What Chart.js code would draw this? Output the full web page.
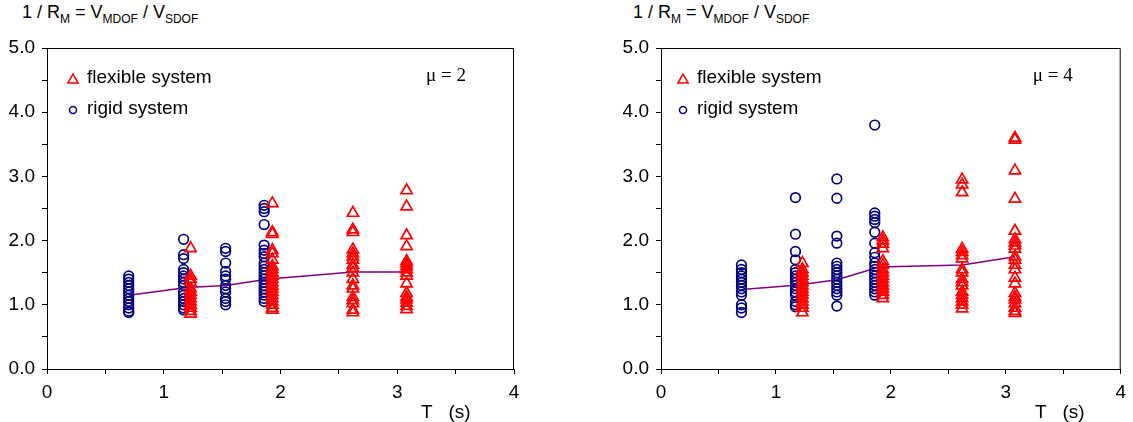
<!DOCTYPE html>
<html lang="en">
<head>
<meta charset="UTF-8">
<title>1 / RM = VMDOF / VSDOF versus T</title>
<script src="https://cdn.jsdelivr.net/npm/chart.js"></script>
<style>
  body { margin: 0; background: #fff; width: 1133px; height: 422px; position: relative; overflow: hidden;
         font-family: "Liberation Sans", Arial, sans-serif; }
  canvas { position: absolute; top: 0; }
  #c1 { left: 0; }
  #c2 { left: 565px; }
  .ytitle { position: absolute; top: 2px; font-size: 18px; color: #000; white-space: nowrap; }
  .ytitle sub { font-size: 12px; color: #000; vertical-align: -5px; line-height: 0; }
</style>
</head>
<body>
<div class="ytitle" style="left:22px">1 / R<sub>M</sub> = V<sub>MDOF</sub> / V<sub>SDOF</sub></div>
<div class="ytitle" style="left:633px">1 / R<sub>M</sub> = V<sub>MDOF</sub> / V<sub>SDOF</sub></div>
<canvas id="c1" width="565" height="422"></canvas>
<canvas id="c2" width="568" height="422"></canvas>
<script>
// periods (s) of each column of points
const rigidT = [0.70, 1.17, 1.53, 1.86];
const flexT  = [1.23, 1.93, 2.62, 3.08];
const meanT  = [0.70, 1.20, 1.53, 1.90, 2.62, 3.08];

// mu = 2
const rigid2_070 = [1.45, 1.40, 1.35, 1.30, 1.25, 1.20, 1.15, 1.10, 1.05, 1.00, 0.95, 0.90, 0.88];
const rigid2_117 = [2.02, 1.78, 1.72, 1.55, 1.50, 1.45, 1.40, 1.35, 1.30, 1.20, 1.15, 1.10, 1.05, 1.00, 0.95, 0.92];
const rigid2_153 = [1.88, 1.83, 1.65, 1.52, 1.45, 1.40, 1.30, 1.25, 1.20, 1.10, 1.05, 1.00];
const rigid2_186 = [2.55, 2.50, 2.45, 2.25, 1.93, 1.85, 1.80, 1.75, 1.65, 1.60, 1.55, 1.50, 1.45, 1.40, 1.35, 1.30, 1.25, 1.20, 1.15, 1.10, 1.05];
const flex2_123 = [1.88, 1.45, 1.40, 1.35, 1.25, 1.20, 1.15, 1.10, 1.05, 1.00, 0.95, 0.90, 0.86];
const flex2_193 = [2.58, 2.13, 2.10, 1.85, 1.80, 1.70, 1.60, 1.55, 1.50, 1.45, 1.40, 1.35, 1.30, 1.25, 1.20, 1.15, 1.10, 1.05, 1.00, 0.95, 0.92];
const flex2_262 = [2.43, 2.17, 2.13, 1.86, 1.80, 1.75, 1.70, 1.62, 1.57, 1.50, 1.40, 1.30, 1.25, 1.12, 1.07, 1.02, 0.92, 0.88];
const flex2_308 = [2.78, 2.53, 2.08, 1.91, 1.68, 1.64, 1.60, 1.55, 1.50, 1.45, 1.33, 1.18, 1.12, 1.08, 1.03, 0.98, 0.93];
const mean2 = [1.15, 1.27, 1.30, 1.40, 1.51, 1.51];

// mu = 4
const rigid4_070 = [1.62, 1.55, 1.50, 1.45, 1.40, 1.35, 1.30, 1.25, 1.20, 1.15, 1.00, 0.95, 0.88];
const rigid4_117 = [2.67, 2.10, 1.83, 1.70, 1.55, 1.50, 1.45, 1.40, 1.35, 1.30, 1.25, 1.20, 1.15, 1.05, 1.00, 0.97];
const rigid4_153 = [2.96, 2.66, 2.07, 1.96, 1.65, 1.60, 1.55, 1.50, 1.45, 1.40, 1.35, 1.30, 1.25, 1.20, 1.15, 0.98];
const rigid4_186 = [3.80, 2.43, 2.38, 2.33, 2.28, 2.13, 1.96, 1.81, 1.74, 1.65, 1.60, 1.55, 1.50, 1.45, 1.40, 1.35, 1.30, 1.25, 1.20, 1.15];
const flex4_123 = [1.65, 1.55, 1.50, 1.45, 1.40, 1.35, 1.30, 1.25, 1.20, 1.15, 1.10, 1.05, 1.00, 0.95, 0.88];
const flex4_193 = [2.05, 2.00, 1.95, 1.88, 1.68, 1.62, 1.55, 1.50, 1.45, 1.40, 1.35, 1.30, 1.25, 1.20, 1.15, 1.10];
const flex4_262 = [2.95, 2.87, 2.75, 1.87, 1.82, 1.77, 1.72, 1.55, 1.50, 1.40, 1.35, 1.30, 1.20, 1.15, 1.10, 1.05, 1.00, 0.94];
const flex4_308 = [3.60, 3.57, 3.09, 2.65, 2.15, 2.02, 1.97, 1.92, 1.87, 1.75, 1.70, 1.62, 1.55, 1.42, 1.33, 1.18, 1.12, 1.08, 1.02, 0.95, 0.90, 0.87];
const mean4 = [1.24, 1.31, 1.39, 1.59, 1.62, 1.75];

const RED = '#ff0000', NAVY = '#000080', PURPLE = '#800080';
const tickFont = { family: '"Liberation Sans", Arial, sans-serif', size: 19 };

const toPoints = (ts, groups) => groups.flatMap((g, i) => g.map(v => ({ x: ts[i], y: v })));

// frame, legend, mu label and T (s) caption
const overlay = {
  id: 'overlay',
  afterDraw(chart, args, o) {
    const { ctx, chartArea: a } = chart;
    ctx.save();
    ctx.strokeStyle = '#000';
    ctx.lineWidth = 1;
    ctx.beginPath();
    ctx.moveTo(a.left, a.top + 0.5);
    ctx.lineTo(a.right - 0.5, a.top + 0.5);
    ctx.lineTo(a.right - 0.5, a.bottom);
    ctx.stroke();

    // legend
    ctx.font = '19px "Liberation Sans", Arial, sans-serif';
    ctx.fillStyle = '#000';
    ctx.textBaseline = 'middle';
    ctx.textAlign = 'left';
    const items = [
      { text: 'flexible system', style: 'triangle', r: 6, color: RED, dy: 31 },
      { text: 'rigid system', style: 'circle', r: 3.5, color: NAVY, dy: 62 }
    ];
    items.forEach(it => {
      ctx.save();
      ctx.strokeStyle = it.color;
      ctx.fillStyle = 'rgba(0,0,0,0)';
      ctx.lineWidth = 1.5;
      Chart.helpers.drawPoint(ctx, { pointStyle: it.style, radius: it.r, rotation: 0, borderWidth: 1.5 },
        a.left + o.markX, a.top + it.dy + (it.style === 'triangle' ? 1 : 0));
      ctx.restore();
      ctx.fillText(it.text, a.left + o.textX, a.top + it.dy - 1);
    });

    // mu
    ctx.font = '19px "Liberation Serif", "Times New Roman", serif';
    ctx.textAlign = 'right';
    ctx.fillText(o.mu, a.right - 48, a.top + 28);

    // x caption
    ctx.font = '19px "Liberation Sans", Arial, sans-serif';
    ctx.textAlign = 'left';
    ctx.textBaseline = 'alphabetic';
    ctx.fillText('T   (s)', a.left + 374, a.bottom + 49);
    ctx.restore();
  }
};

function makeChart(id, rigid, flex, mean, opts) {
  new Chart(document.getElementById(id), {
    type: 'scatter',
    data: {
      datasets: [
        {
          label: 'flexible system', data: toPoints(flexT, flex), order: 1,
          pointStyle: 'triangle', pointRadius: 6.5, borderColor: RED,
          backgroundColor: 'rgba(0,0,0,0)', borderWidth: 1.7
        },
        {
          label: 'rigid system', data: toPoints(rigidT, rigid), order: 2,
          pointStyle: 'circle', pointRadius: 4.8, borderColor: NAVY,
          backgroundColor: 'rgba(0,0,0,0)', borderWidth: 1.7
        },
        {
          type: 'line', label: 'mean', data: meanT.map((t, i) => ({ x: t, y: mean[i] })), order: 3,
          borderColor: PURPLE, borderWidth: 1.5, pointRadius: 0, fill: false, tension: 0
        }
      ]
    },
    options: {
      responsive: false,
      animation: false,
      events: [],
      layout: { padding: opts.padding },
      plugins: {
        legend: { display: false },
        tooltip: { enabled: false },
        overlay: { mu: opts.mu, markX: opts.markX, textX: opts.textX }
      },
      scales: {
        x: {
          type: 'linear', min: 0, max: 4,
          ticks: {
            stepSize: 0.5, autoSkip: false, maxRotation: 0, padding: 7,
            color: '#000', font: tickFont,
            callback: v => Number.isInteger(v) ? String(v) : ''
          },
          grid: { drawOnChartArea: false, tickLength: 5, color: '#000' },
          border: { color: '#000', width: 1 },
          afterFit: s => { s.height = 53; }
        },
        y: {
          min: 0, max: 5,
          ticks: {
            stepSize: 0.5, autoSkip: false, padding: 7,
            color: '#000', font: tickFont,
            callback: v => Number.isInteger(v) ? v.toFixed(1) : ''
          },
          grid: { drawOnChartArea: false, tickLength: 5, color: '#000' },
          border: { color: '#000', width: 1 },
          afterFit: s => { s.width = opts.yWidth; }
        }
      }
    },
    plugins: [overlay]
  });
}

makeChart('c1',
  [rigid2_070, rigid2_117, rigid2_153, rigid2_186],
  [flex2_123, flex2_193, flex2_262, flex2_308],
  mean2,
  { mu: 'μ = 2', padding: { left: 0, top: 48, right: 51, bottom: 0 }, yWidth: 47, markX: 26, textX: 40 });

makeChart('c2',
  [rigid4_070, rigid4_117, rigid4_153, rigid4_186],
  [flex4_123, flex4_193, flex4_262, flex4_308],
  mean4,
  { mu: 'μ = 4', padding: { left: 6, top: 48, right: 3, bottom: 0 }, yWidth: 90, markX: 22, textX: 36 });
</script>
</body>
</html>
